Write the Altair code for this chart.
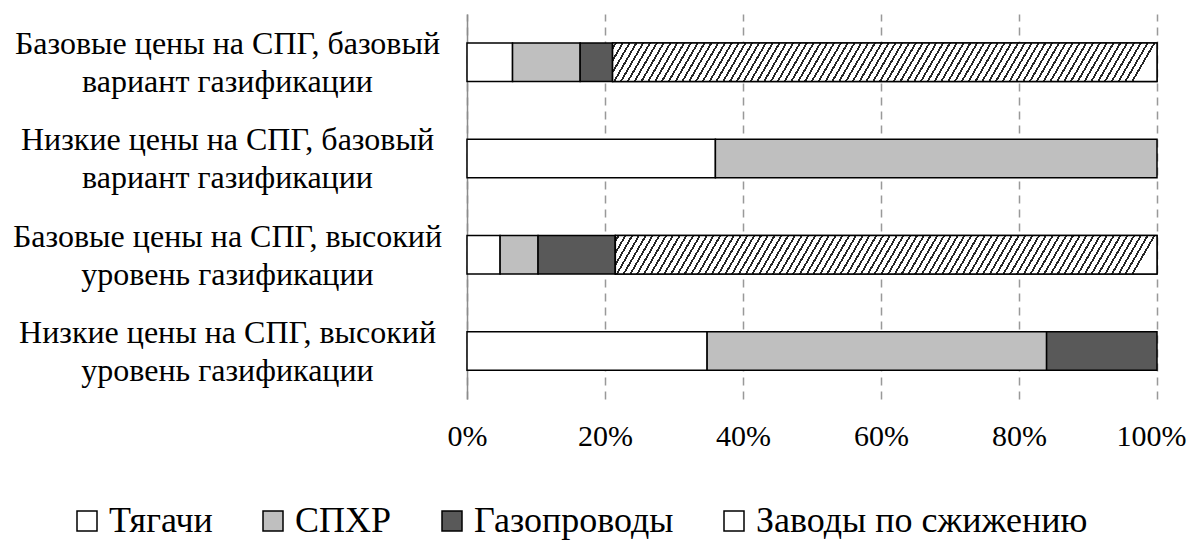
import altair as alt
import pandas as pd

scenarios = [
    "Базовые цены на СПГ, базовый\nвариант газификации",
    "Низкие цены на СПГ, базовый\nвариант газификации",
    "Базовые цены на СПГ, высокий\nуровень газификации",
    "Низкие цены на СПГ, высокий\nуровень газификации",
]
components = ["Тягачи", "СПХР", "Газопроводы", "Заводы по сжижению"]

tyagachi = [6.6, 36.0, 4.8, 34.8]
spkhr = [9.8, 64.0, 5.5, 49.2]
gazoprovody = [4.7, 0.0, 11.2, 16.0]
zavody = [78.9, 0.0, 78.5, 0.0]

x_ticks = [0, 20, 40, 60, 80, 100]

series = [tyagachi, spkhr, gazoprovody, zavody]
rows = []
for i, sc in enumerate(scenarios):
    acc = 0.0
    for comp, vals in zip(components, series):
        v = vals[i]
        if v > 0:
            rows.append({"scenario": sc, "component": comp, "start": acc, "end": acc + v})
        acc += v
df = pd.DataFrame(rows)

FONT = "Liberation Serif"

# hatched fill approximated by a striped linear gradient (white at both ends)
N = 80
stops = []
for k in range(N):
    a = k / N
    b = (k + 0.35) / N
    c = (k + 0.65) / N
    d = (k + 1) / N
    stops += [
        alt.GradientStop(offset=a, color="#ffffff"),
        alt.GradientStop(offset=b, color="#ffffff"),
        alt.GradientStop(offset=b, color="#262626"),
        alt.GradientStop(offset=c, color="#262626"),
        alt.GradientStop(offset=c, color="#ffffff"),
        alt.GradientStop(offset=d, color="#ffffff"),
    ]
hatch = alt.LinearGradient(gradient="linear", stops=stops, x1=0, y1=0, x2=1, y2=0.041)

y_enc = alt.Y(
    "scenario:N",
    sort=scenarios,
    scale=alt.Scale(domain=scenarios, paddingInner=0.6, paddingOuter=0.3),
    axis=alt.Axis(
        title=None,
        labelExpr="split(datum.label, '\\n')",
        labelAlign="center",
        labelBaseline="middle",
        labelPadding=240,
        labelOffset=-18,
        labelFont=FONT,
        labelFontSize=32,
        labelLineHeight=38,
        labelColor="#000000",
        labelLimit=0,
        ticks=False,
        tickSize=0,
        domain=True,
        domainColor="#8c8c8c",
        domainWidth=1.5,
        grid=False,
    ),
)
x_enc = alt.X(
    "start:Q",
    scale=alt.Scale(domain=[0, 100], nice=False),
    axis=alt.Axis(
        title=None,
        values=x_ticks,
        labelExpr="datum.value + '%'",
        labelFont=FONT,
        labelFontSize=30,
        labelColor="#000000",
        labelPadding=22,
        labelFlush=False,
        labelOffset={"condition": {"test": "datum.value == 100", "value": -6}, "value": 0},
        ticks=False,
        tickSize=0,
        domain=False,
        grid=True,
        gridColor="#999999",
        gridWidth=1.5,
        gridDash=[8, 6],
    ),
)

base = alt.Chart(df).mark_bar(stroke="#000000", strokeWidth=1.5).encode(
    y=y_enc,
    x=x_enc,
    x2="end:Q",
    color=alt.Color(
        "component:N",
        scale=alt.Scale(domain=components, range=["#ffffff", "#bfbfbf", "#595959", "#ffffff"]),
        legend=alt.Legend(
            title=None,
            orient="none",
            direction="horizontal",
            legendX=-398,
            legendY=489,
            symbolType="square",
            symbolSize=400,
            symbolStrokeColor="#000000",
            symbolStrokeWidth=1.5,
            labelFont=FONT,
            labelFontSize=36,
            labelColor="#000000",
            labelOffset=4,
            columnPadding=42,
            padding=0,
            labelLimit=0,
        ),
    ),
)

hatched = (
    alt.Chart(df)
    .transform_filter(alt.datum.component == "Заводы по сжижению")
    .mark_bar(fill=hatch, stroke="#000000", strokeWidth=1.5)
    .encode(y=alt.Y("scenario:N", sort=scenarios), x=alt.X("start:Q"), x2="end:Q")
)

chart = (
    alt.layer(base, hatched)
    .properties(
        width=690,
        height=385,
        autosize=alt.AutoSizeParams(type="none"),
        padding={"left": 459, "top": 6, "right": 30, "bottom": 143},
        background="#ffffff",
    )
    .configure_view(stroke=None)
)

chart.save("out.html", embed_options={"renderer": "svg", "actions": False})
